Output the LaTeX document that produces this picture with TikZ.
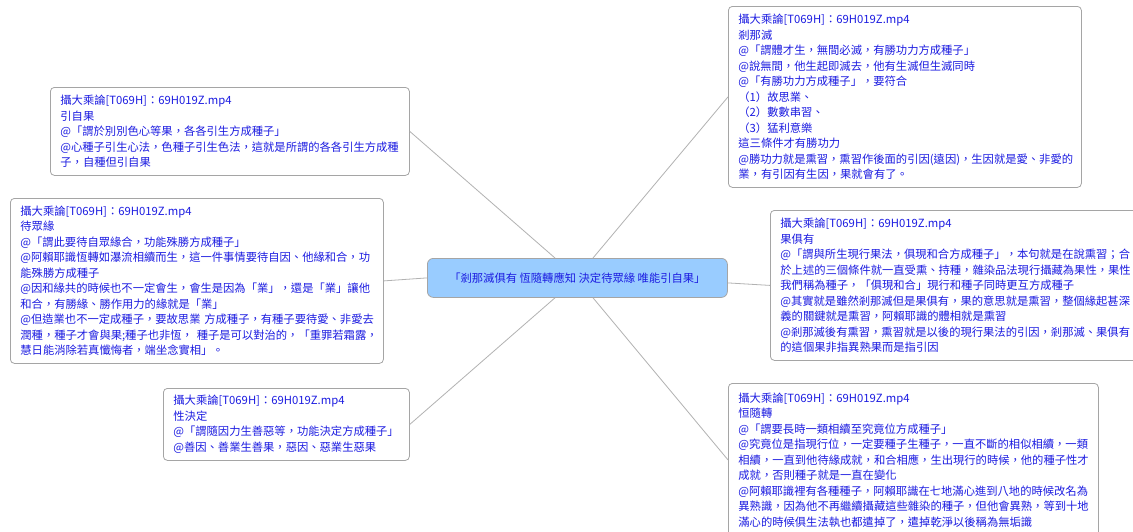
\documentclass[tikz,border=0pt]{standalone}
\usepackage{fontspec}
\setmainfont{Noto Sans CJK TC}
\usetikzlibrary{calc}
\definecolor{txtblue}{RGB}{28,28,225}
\definecolor{boxline}{RGB}{165,165,165}
\definecolor{hubfill}{RGB}{153,204,255}
\definecolor{linkgray}{RGB}{178,178,178}
\tikzset{
  note/.style={draw=boxline, line width=0.8pt, rounded corners=4pt, fill=white,
    anchor=north west, inner xsep=10pt, inner ysep=3pt, align=left,
    text=txtblue, font=\fontsize{11.3}{15.5}\selectfont},
  hub/.style={draw=boxline, line width=0.8pt, rounded corners=6pt, fill=hubfill,
    anchor=north west, inner sep=0pt, minimum width=300pt, minimum height=39pt,
    text=txtblue, font=\fontsize{11.3}{15.5}\selectfont},
  link/.style={draw=linkgray, line width=0.8pt}
}
\begin{document}
\begin{tikzpicture}[x=1pt,y=-1pt]
\path[use as bounding box, clip] (0,0) rectangle (1133,531);
\fill[white] (0,0) rectangle (1133,531);

\node[hub] (c) at (427,258) {「剎那滅俱有 恆隨轉應知 決定待眾緣 唯能引自果」};

\node[note, text width=339pt, minimum height=88pt] (A) at (50,87) {%
攝大乘論[T069H]：69H019Z.mp4\\
引自果\\
@「謂於別別色心等果，各各引生方成種子」\\
@心種子引生心法，色種子引生色法，這就是所謂的各各引生方成種\\
子，自種但引自果};

\node[note, text width=353pt, minimum height=165pt] (B) at (10,198) {%
攝大乘論[T069H]：69H019Z.mp4\\
待眾緣\\
@「謂此要待自眾緣合，功能殊勝方成種子」\\
@阿賴耶識恆轉如瀑流相續而生，這一件事情要待自因、他緣和合，功\\
能殊勝方成種子\\
@因和緣共的時候也不一定會生，會生是因為「業」，還是「業」讓他\\
和合，有勝緣、勝作用力的緣就是「業」\\
@但造業也不一定成種子，要故思業~方成種子，有種子要待愛、非愛去\\
潤種，種子才會與果;種子也非恆，~種子是可以對治的，「重罪若霜露，\\
慧日能消除若真懺悔者，端坐念實相」。};

\node[note, text width=226pt, minimum height=72pt] (C) at (163,388) {%
攝大乘論[T069H]：69H019Z.mp4\\
性決定\\
@「謂隨因力生善惡等，功能決定方成種子」\\
@善因、善業生善果，惡因、惡業生惡果};

\node[note, text width=333pt, minimum height=181pt] (D) at (728,6) {%
攝大乘論[T069H]：69H019Z.mp4\\
剎那滅\\
@「謂體才生，無間必滅，有勝功力方成種子」\\
@說無間，他生起即滅去，他有生滅但生滅同時\\
@「有勝功力方成種子」，要符合\\
（1）故思業、\\
（2）數數串習、\\
（3）猛利意樂\\
這三條件才有勝功力\\
@勝功力就是熏習，熏習作後面的引因(遠因)，生因就是愛、非愛的\\
業，有引因有生因，果就會有了。};

\node[note, text width=360pt, minimum height=150pt] (E) at (770,210) {%
攝大乘論[T069H]：69H019Z.mp4\\
果俱有\\
@「謂與所生現行果法，俱現和合方成種子」，本句就是在說熏習；合\\
於上述的三個條件就一直受熏、持種，雜染品法現行攝藏為果性，果性\\
我們稱為種子，「俱現和合」現行和種子同時更互方成種子\\
@其實就是雖然剎那滅但是果俱有，果的意思就是熏習，整個緣起甚深\\
義的關鍵就是熏習，阿賴耶識的體相就是熏習\\
@剎那滅後有熏習，熏習就是以後的現行果法的引因，剎那滅、果俱有\\
的這個果非指異熟果而是指引因};

\node[note, text width=350pt, minimum height=153pt] (F) at (728,383) {%
攝大乘論[T069H]：69H019Z.mp4\\
恒隨轉\\
@「謂要長時一類相續至究竟位方成種子」\\
@究竟位是指現行位，一定要種子生種子，一直不斷的相似相續，一類\\
相續，一直到他待緣成就，和合相應，生出現行的時候，他的種子性才\\
成就，否則種子就是一直在變化\\
@阿賴耶識裡有各種種子，阿賴耶識在七地滿心進到八地的時候改名為\\
異熟識，因為他不再繼續攝藏這些雜染的種子，但他會異熟，等到十地\\
滿心的時候俱生法執也都遣掉了，遣掉乾淨以後稱為無垢識};

\draw[link] (A.east) -- ($(c.north west)+(128pt,0pt)$);
\draw[link] (D.west) -- ($(c.north west)+(166pt,0pt)$);
\draw[link] (B.east) -- (c.west);
\draw[link] ($(c.east)+(0pt,-5pt)$) -- (E.west);
\draw[link] (C.east) -- ($(c.south west)+(128pt,0pt)$);
\draw[link] (F.west) -- ($(c.south west)+(166pt,0pt)$);
\end{tikzpicture}
\end{document}
